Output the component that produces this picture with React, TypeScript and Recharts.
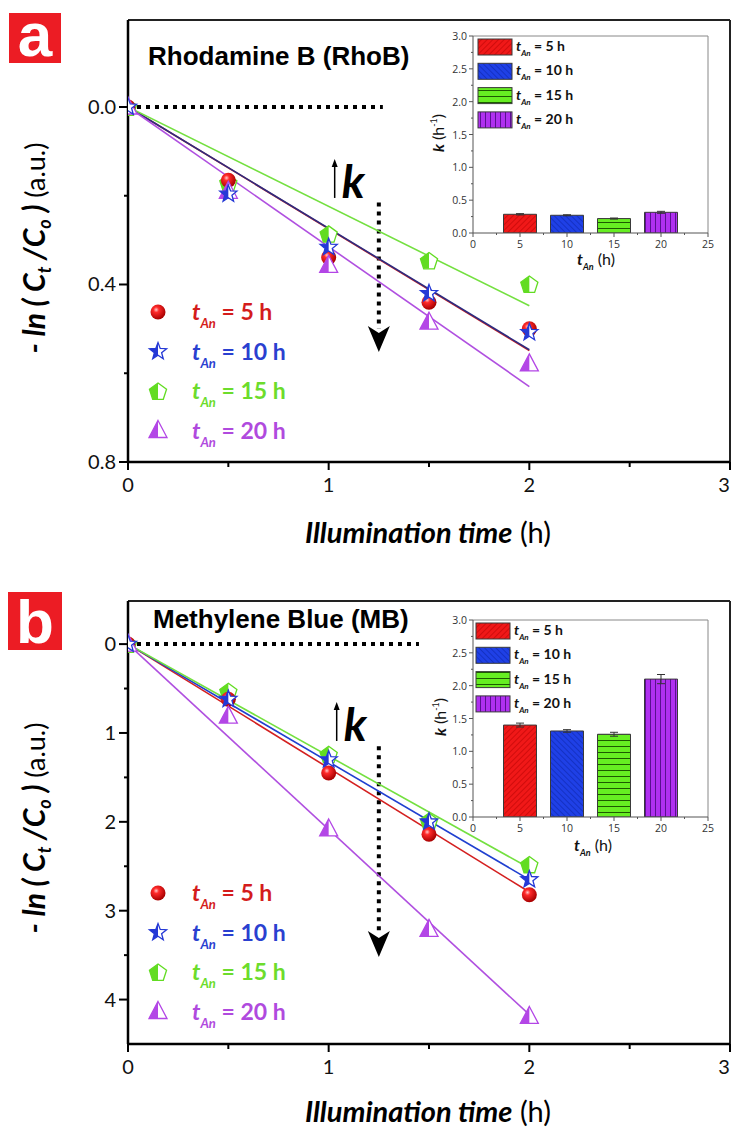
import React from "react";
import {
  ComposedChart, Line, Scatter, XAxis, YAxis, ReferenceLine, ReferenceDot,
  BarChart, Bar, Cell, ErrorBar,
} from "recharts";

// illumination time (h)
const timeH = [0, 0.5, 1, 1.5, 2];

// panel a: Rhodamine B, -ln(Ct/Co)
const rhob5h = [0, 0.165, 0.339, 0.44, 0.5];
const rhob10h = [0, 0.196, 0.316, 0.42, 0.508];
const rhob15h = [0, 0.17, 0.286, 0.346, 0.399];
const rhob20h = [0, 0.19, 0.357, 0.485, 0.579];

// panel b: Methylene Blue, -ln(Ct/Co)
const mb5h = [0, 0.62, 1.45, 2.14, 2.82];
const mb10h = [0, 0.62, 1.3, 2.0, 2.65];
const mb15h = [0, 0.53, 1.24, 1.99, 2.48];
const mb20h = [0, 0.81, 2.08, 3.21, 4.19];

// fitted lines, t = 0 .. 2 h
const fitTime = [0, 2];
const rhobFit5h = [0, 0.549];
const rhobFit10h = [0, 0.547];
const rhobFit15h = [0, 0.448];
const rhobFit20h = [0, 0.63];
const mbFit5h = [0, 2.79];
const mbFit10h = [0, 2.65];
const mbFit15h = [0, 2.52];
const mbFit20h = [0, 4.17];

// insets: rate constant k (h^-1) vs annealing time
const tAn = [5, 10, 15, 20];
const kRhob = [0.285, 0.27, 0.22, 0.315];
const kRhobErr = [0.01, 0.008, 0.008, 0.015];
const kMb = [1.4, 1.31, 1.26, 2.1];
const kMbErr = [0.03, 0.02, 0.03, 0.07];

const legendLabels = ["5 h", "10 h", "15 h", "20 h"];
const mainXTicks = [0, 0.5, 1, 1.5, 2, 2.5, 3];
const rhobYTicks = [0, 0.2, 0.4, 0.6, 0.8];
const rhobYMajor = [0, 0.4, 0.8];
const mbYTicks = [0, 0.5, 1, 1.5, 2, 2.5, 3, 3.5, 4];
const mbYMajor = [0, 1, 2, 3, 4];
const insetXTicks = [0, 2.5, 5, 7.5, 10, 12.5, 15, 17.5, 20, 22.5, 25];
const insetYTicks = [0, 0.25, 0.5, 0.75, 1, 1.25, 1.5, 1.75, 2, 2.25, 2.5, 2.75, 3];

const markerColors = ["#e3171d", "#2438d6", "#62dc22", "#b346e6"];
const textColors = ["#d41c1c", "#2a40d0", "#6cdc2c", "#b04ade"];
const kinds = ["sphere", "star", "pentagon", "triangle"];
const barFills = ["url(#hatchRed)", "url(#hatchBlue)", "url(#hatchGreen)", "url(#hatchPurple)"];

const CAL = "Lato, 'Open Sans', sans-serif";

const toPts = (xs: number[], ys: number[]) => xs.map((x, i) => ({ x, y: ys[i] }));

function starPath(cx: number, cy: number, R: number, r: number) {
  let d = "";
  for (let i = 0; i < 10; i++) {
    const a = -Math.PI / 2 + (i * Math.PI) / 5;
    const rr = i % 2 === 0 ? R : r;
    d += (i === 0 ? "M" : "L") + (cx + rr * Math.cos(a)).toFixed(2) + "," + (cy + rr * Math.sin(a)).toFixed(2);
  }
  return d + "Z";
}

function polyPath(cx: number, cy: number, R: number, n: number) {
  let d = "";
  for (let i = 0; i < n; i++) {
    const a = -Math.PI / 2 + (i * 2 * Math.PI) / n;
    d += (i === 0 ? "M" : "L") + (cx + R * Math.cos(a)).toFixed(2) + "," + (cy + R * Math.sin(a)).toFixed(2);
  }
  return d + "Z";
}

function Marker({ kind, cx, cy, color }: any) {
  if (cx == null || cy == null) return <g />;
  if (kind === "sphere") return <circle cx={cx} cy={cy} r={7.5} fill="url(#sphereRed)" />;
  let d = "";
  if (kind === "star") d = starPath(cx, cy, 9, 3.8);
  else if (kind === "pentagon") d = polyPath(cx, cy + 1, 9, 5);
  else d = `M${cx},${cy - 10} L${cx + 9},${cy + 7} L${cx - 9},${cy + 7} Z`;
  return (
    <g>
      <path d={d} fill="#fff" stroke={color} strokeWidth={1.3} />
      <path d={d} fill={color} clipPath="url(#leftHalf)" />
    </g>
  );
}

const renderXTick = (p: any) => {
  const v = p.payload.value;
  const major = Number.isInteger(v);
  // the last label sits on the right edge of the picture
  const lx = v === 3 ? p.x - 6 : p.x;
  return (
    <g>
      <line x1={p.x} x2={p.x} y1={p.y} y2={p.y + (major ? 8 : 5)} stroke="#000" strokeWidth={2} />
      {major && (
        <text x={lx} y={p.y + 30} textAnchor="middle" fontFamily={CAL} fontSize={20} fill="#111">{v}</text>
      )}
    </g>
  );
};

const makeYTick = (majors: number[], digits: number) => (p: any) => {
  const v = p.payload.value;
  const major = majors.includes(v);
  return (
    <g>
      <line x1={p.x - (major ? 9 : 4)} x2={p.x} y1={p.y} y2={p.y} stroke="#000" strokeWidth={2} />
      {major && (
        <text x={p.x - 12} y={p.y + 7} textAnchor="end" fontFamily={CAL} fontSize={20} fill="#111">{v.toFixed(digits)}</text>
      )}
    </g>
  );
};

function Panel({ top, height, marginTop, yDomain, yTicks, yMajor, digits, series, fits, fitColors, hDotEnd, vArrow, kAt }: any) {
  return (
    <div style={{ position: "absolute", left: 0, top }}>
      <ComposedChart width={731} height={height} margin={{ top: marginTop, right: 1, left: 0, bottom: 0 }}>
        <XAxis type="number" dataKey="x" domain={[0, 3]} ticks={mainXTicks} interval={0} height={40}
          allowDataOverflow axisLine={{ stroke: "#000", strokeWidth: 2.5 }} tickLine={false}
          tickSize={0} tickMargin={0} tick={renderXTick} />
        <YAxis type="number" dataKey="y" domain={yDomain} reversed ticks={yTicks} interval={0} width={128}
          allowDataOverflow axisLine={{ stroke: "#000", strokeWidth: 2.5 }} tickLine={false}
          tickSize={0} tickMargin={0} tick={makeYTick(yMajor, digits)} />
        <ReferenceLine y={yDomain[0]} stroke="#222" strokeWidth={2} />
        <ReferenceLine x={3} stroke="#222" strokeWidth={2} />
        <ReferenceLine segment={[{ x: 0, y: 0 }, { x: hDotEnd, y: 0 }]} stroke="#000" strokeWidth={4} strokeDasharray="4 5" />
        <ReferenceLine segment={[{ x: vArrow.x, y: vArrow.y1 }, { x: vArrow.x, y: vArrow.y2 }]} stroke="#000" strokeWidth={4} strokeDasharray="4 5" />
        <ReferenceDot x={vArrow.x} y={vArrow.tip} r={1} shape={(p: any) => (
          <path d={`M${p.cx - 11},${p.cy - 26} L${p.cx},${p.cy - 19} L${p.cx + 11},${p.cy - 26} L${p.cx},${p.cy} Z`} fill="#000" />
        )} />
        <ReferenceDot x={kAt.x} y={kAt.y} r={1} shape={(p: any) => (
          <g>
            <line x1={p.cx} x2={p.cx} y1={p.cy} y2={p.cy - 34} stroke="#000" strokeWidth={1.5} />
            <path d={`M${p.cx - 3},${p.cy - 31} L${p.cx},${p.cy - 39} L${p.cx + 3},${p.cy - 31} Z`} fill="#000" />
            <text x={p.cx + 7} y={p.cy} fontFamily={CAL} fontWeight="bold" fontStyle="italic" fontSize={46} fill="#000">k</text>
          </g>
        )} />
        {fits.map((f: number[], i: number) => (
          <Line key={"fit" + i} data={toPts(fitTime, f)} dataKey="y" stroke={fitColors[i]} strokeWidth={1.6}
            dot={false} activeDot={false} isAnimationActive={false} />
        ))}
        {[2, 0, 3, 1].map((i) => (
          <Scatter key={"pts" + i} data={toPts(timeH, series[i])} dataKey="y" isAnimationActive={false}
            shape={(p: any) => <Marker kind={kinds[i]} cx={p.cx} cy={p.cy} color={markerColors[i]} />} />
        ))}
      </ComposedChart>
    </div>
  );
}

const renderInsetXTick = (p: any) => {
  const v = p.payload.value;
  const major = v % 5 === 0;
  return (
    <g>
      <line x1={p.x} x2={p.x} y1={p.y} y2={p.y + (major ? 4 : 2)} stroke="#555" strokeWidth={1} />
      {major && (
        <text x={p.x} y={p.y + 15} textAnchor="middle" fontFamily="'Open Sans', sans-serif" fontSize={10.5} fill="#333">{v}</text>
      )}
    </g>
  );
};

const renderInsetYTick = (p: any) => {
  const v = p.payload.value;
  const major = Math.abs(v * 2 - Math.round(v * 2)) < 1e-6;
  return (
    <g>
      <line x1={p.x - (major ? 4 : 2)} x2={p.x} y1={p.y} y2={p.y} stroke="#555" strokeWidth={1} />
      {major && (
        <text x={p.x - 6} y={p.y + 4} textAnchor="end" fontFamily="'Open Sans', sans-serif" fontSize={10.5} fill="#333">{v.toFixed(1)}</text>
      )}
    </g>
  );
};

function Inset({ top, kVals, kErr }: any) {
  const data = tAn.map((t, i) => ({ t, k: kVals[i], err: kErr[i] }));
  return (
    <div style={{ position: "absolute", left: 400, top }}>
      <BarChart width={320} height={280} data={data} margin={{ top: 36, right: 12, left: 0, bottom: 0 }} barSize={33}>
        <XAxis type="number" dataKey="t" domain={[0, 25]} ticks={insetXTicks} interval={0} height={47}
          allowDataOverflow axisLine={{ stroke: "#555", strokeWidth: 1 }} tickLine={false}
          tickSize={0} tickMargin={0} tick={renderInsetXTick} />
        <YAxis type="number" domain={[0, 3]} ticks={insetYTicks} interval={0} width={73}
          allowDataOverflow axisLine={{ stroke: "#555", strokeWidth: 1 }} tickLine={false}
          tickSize={0} tickMargin={0} tick={renderInsetYTick} />
        <ReferenceLine y={3} stroke="#888" strokeWidth={1} />
        <ReferenceLine x={25} stroke="#888" strokeWidth={1} />
        <Bar dataKey="k" isAnimationActive={false} stroke="#3a3a3a" strokeWidth={1}>
          {data.map((d, i) => <Cell key={d.t} fill={barFills[i]} />)}
          <ErrorBar dataKey="err" width={4} stroke="#333" strokeWidth={1} direction="y" />
        </Bar>
      </BarChart>
    </div>
  );
}

function MainLegend({ y0 }: any) {
  return (
    <g>
      {legendLabels.map((lab, i) => {
        const cy = y0 + i * 39.5;
        return (
          <g key={lab}>
            <Marker kind={kinds[i]} cx={158} cy={cy} color={markerColors[i]} />
            <text x={192} y={cy + 8} fill={textColors[i]} fontFamily={CAL} fontWeight="bold" fontSize={23}>
              <tspan fontStyle="italic">t</tspan>
              <tspan fontStyle="italic" fontSize={13} dy={8}>An</tspan>
              <tspan dy={-8}> = {lab}</tspan>
            </text>
          </g>
        );
      })}
    </g>
  );
}

function InsetLegend({ x0, y0 }: any) {
  return (
    <g>
      {legendLabels.map((lab, i) => {
        const cy = y0 + i * 24.3;
        return (
          <g key={lab}>
            <rect x={x0} y={cy - 8} width={34} height={16} fill={barFills[i]} stroke="#3a3a3a" strokeWidth={1} />
            <text x={x0 + 38} y={cy + 4} fill="#111" fontFamily={CAL} fontWeight="bold" fontSize={14}>
              <tspan fontStyle="italic">t</tspan>
              <tspan fontStyle="italic" fontSize={8} dy={5}>An</tspan>
              <tspan dy={-5}> = {lab}</tspan>
            </text>
          </g>
        );
      })}
    </g>
  );
}

function YLabel({ cx, cy }: any) {
  return (
    <text x={cx} y={cy} transform={`rotate(-90, ${cx}, ${cy})`} textAnchor="middle" fontFamily={CAL} fill="#000">
      <tspan fontWeight="bold" fontStyle="italic" fontSize={30}>- ln ( C</tspan>
      <tspan fontWeight="bold" fontStyle="italic" fontSize={18} dy={6}>t</tspan>
      <tspan fontWeight="bold" fontStyle="italic" fontSize={30} dy={-6}> /C</tspan>
      <tspan fontWeight="bold" fontStyle="italic" fontSize={18} dy={6}>o</tspan>
      <tspan fontWeight="bold" fontStyle="italic" fontSize={30} dy={-6}> )</tspan>
      <tspan fontSize={27}> (a.u.)</tspan>
    </text>
  );
}

function XLabel({ y }: any) {
  return (
    <text x={428} y={y} textAnchor="middle" fontFamily={CAL} fill="#000" fontSize={29}>
      <tspan fontWeight="bold" fontStyle="italic">Illumination time</tspan>
      <tspan> (h)</tspan>
    </text>
  );
}

function InsetAxisLabels({ xl, yl }: any) {
  return (
    <g fontFamily={CAL} fill="#111">
      <text x={xl.x} y={xl.y} textAnchor="middle" fontSize={16}>
        <tspan fontWeight="bold" fontStyle="italic">t</tspan>
        <tspan fontWeight="bold" fontStyle="italic" fontSize={9} dy={5}>An</tspan>
        <tspan dy={-5}> (h)</tspan>
      </text>
      <text x={yl.x} y={yl.y} transform={`rotate(-90, ${yl.x}, ${yl.y})`} textAnchor="middle" fontSize={16}>
        <tspan fontWeight="bold" fontStyle="italic">k</tspan>
        <tspan> (h</tspan>
        <tspan fontSize={9} dy={-7}>-1</tspan>
        <tspan dy={7}>)</tspan>
      </text>
    </g>
  );
}

export default function App() {
  return (
    <div style={{ position: "absolute", left: 0, top: 0, width: 731, height: 1129, background: "#fff", overflow: "hidden" }}>
      <svg width={0} height={0} style={{ position: "absolute" }}>
        <defs>
          <radialGradient id="sphereRed" cx="0.38" cy="0.35" r="0.65">
            <stop offset="0%" stopColor="#ffc8c8" />
            <stop offset="28%" stopColor="#ff2a2a" />
            <stop offset="100%" stopColor="#a80000" />
          </radialGradient>
          <clipPath id="leftHalf" clipPathUnits="objectBoundingBox">
            <rect x="0" y="0" width="0.5" height="1" />
          </clipPath>
          <pattern id="hatchRed" patternUnits="userSpaceOnUse" width="4" height="4" patternTransform="rotate(45)">
            <rect width="4" height="4" fill="#f01818" />
            <line x1="0" y1="0" x2="0" y2="4" stroke="#b00000" strokeWidth="1" />
          </pattern>
          <pattern id="hatchBlue" patternUnits="userSpaceOnUse" width="4" height="4" patternTransform="rotate(-45)">
            <rect width="4" height="4" fill="#1f40e6" />
            <line x1="0" y1="0" x2="0" y2="4" stroke="#0a22a0" strokeWidth="1" />
          </pattern>
          <pattern id="hatchGreen" patternUnits="userSpaceOnUse" width="6" height="6">
            <rect width="6" height="6" fill="#66ee22" />
            <line x1="0" y1="0.5" x2="6" y2="0.5" stroke="#1d5a00" strokeWidth="1" />
          </pattern>
          <pattern id="hatchPurple" patternUnits="userSpaceOnUse" width="5" height="5">
            <rect width="5" height="5" fill="#b030f0" />
            <line x1="0.5" y1="0" x2="0.5" y2="5" stroke="#5a1090" strokeWidth="1" />
          </pattern>
        </defs>
      </svg>

      <Panel top={0} height={502} marginTop={20} yDomain={[-0.196, 0.8]} yTicks={rhobYTicks} yMajor={rhobYMajor} digits={1}
        series={[rhob5h, rhob10h, rhob15h, rhob20h]}
        fits={[rhobFit5h, rhobFit10h, rhobFit15h, rhobFit20h]}
        fitColors={["#d42020", "#2c2c80", "#74e040", "#b050e0"]}
        hDotEnd={1.27} vArrow={{ x: 1.25, y1: 0.215, y2: 0.5, tip: 0.552 }} kAt={{ x: 1.03, y: 0.205 }} />
      <Panel top={580} height={504} marginTop={21} yDomain={[-0.485, 4.5]} yTicks={mbYTicks} yMajor={mbYMajor} digits={0}
        series={[mb5h, mb10h, mb15h, mb20h]}
        fits={[mbFit5h, mbFit10h, mbFit15h, mbFit20h]}
        fitColors={["#d42020", "#2040d0", "#74e040", "#b050e0"]}
        hDotEnd={1.45} vArrow={{ x: 1.25, y1: 1.15, y2: 3.25, tip: 3.52 }} kAt={{ x: 1.04, y: 1.09 }} />

      <Inset top={0} kVals={kRhob} kErr={kRhobErr} />
      <Inset top={584} kVals={kMb} kErr={kMbErr} />

      <svg width={731} height={1129} style={{ position: "absolute", left: 0, top: 0, pointerEvents: "none" }}>
        <rect x={9} y={13} width={52} height={50} fill="#ec1c24" />
        <text x={35} y={56} textAnchor="middle" fontFamily="'Liberation Sans', Arial, sans-serif" fontWeight="bold" fontSize={62} fill="#fff">a</text>
        <rect x={8} y={592} width={54} height={58} fill="#ec1c24" />
        <text x={35} y={643} textAnchor="middle" fontFamily="'Liberation Sans', Arial, sans-serif" fontWeight="bold" fontSize={62} fill="#fff">b</text>

        <text x={148} y={65} fontFamily="'Liberation Sans', Arial, sans-serif" fontWeight="bold" fontSize={26} fill="#000">Rhodamine B (RhoB)</text>
        <text x={153} y={628} fontFamily="'Liberation Sans', Arial, sans-serif" fontWeight="bold" fontSize={26} fill="#000">Methylene Blue (MB)</text>

        <YLabel cx={45} cy={248} />
        <YLabel cx={45} cy={828} />
        <XLabel y={543} />
        <XLabel y={1122} />

        <MainLegend y0={312} />
        <MainLegend y0={893} />

        <InsetLegend x0={478} y0={47} />
        <InsetLegend x0={476} y0={631} />
        <InsetAxisLabels xl={{ x: 596, y: 265 }} yl={{ x: 444, y: 133 }} />
        <InsetAxisLabels xl={{ x: 593, y: 851 }} yl={{ x: 446, y: 717 }} />
      </svg>
    </div>
  );
}
